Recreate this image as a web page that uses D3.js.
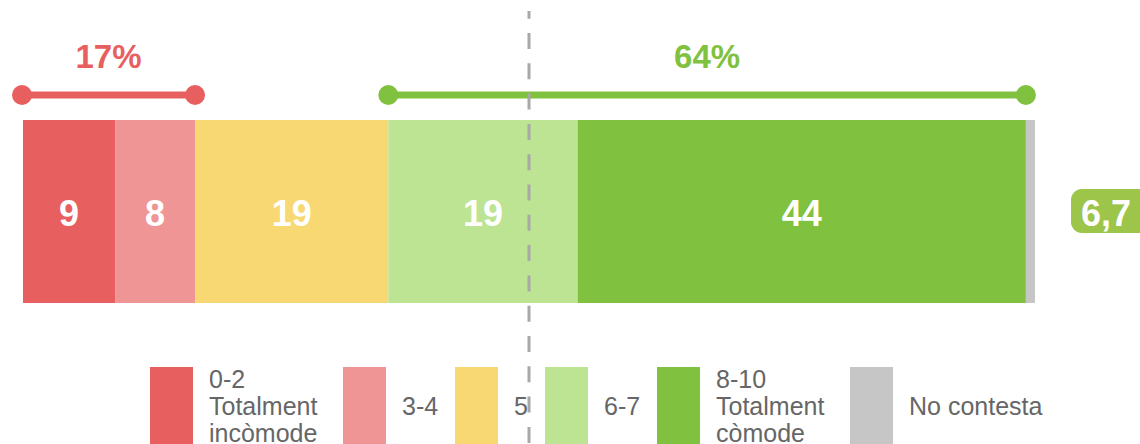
<!DOCTYPE html>
<html>
<head>
<meta charset="utf-8">
<script src="https://cdn.jsdelivr.net/npm/d3@7"></script>
<style>
  html, body { margin: 0; padding: 0; background: #fff; }
  svg { display: block; }
  text { font-family: "Liberation Sans", Arial, sans-serif; }
</style>
</head>
<body>
<div id="chart"></div>
<script>
// ---- data ----
const categories = ["0-2 Totalment incòmode", "3-4", "5", "6-7", "8-10 Totalment còmode", "No contesta"];
const values = [9.1, 7.9, 19.1, 18.7, 44.3, 0.9];
const valueLabels = ["9", "8", "19", "19", "44", ""];
const colors = ["#e85f5f", "#ef9595", "#f8d872", "#bce492", "#80c13f", "#c6c6c6"];
const legendLines = [["0-2", "Totalment", "incòmode"], ["3-4"], ["5"], ["6-7"], ["8-10", "Totalment", "còmode"], ["No contesta"]];
const brackets = [
  { label: "17%", from: 0, to: 17, color: "#e85f5f" },
  { label: "64%", from: 36.1, to: 99.1, color: "#80c13f" }
];
const meanScore = "6,7";
const midline = 50;

// ---- layout ----
const W = 1140, H = 444;
const svg = d3.select("#chart").append("svg").attr("width", W).attr("height", H);

const x = d3.scaleLinear().domain([0, 100]).range([23, 1035]);
const barTop = 120, barBottom = 303;

// stacked segments
let acc = 0;
const segs = values.map((v, i) => { const s = { v, i, x0: acc, x1: acc + v }; acc += v; return s; });

svg.append("g").selectAll("rect").data(segs).enter().append("rect")
  .attr("x", d => x(d.x0))
  .attr("y", barTop)
  .attr("width", d => x(d.x1) - x(d.x0))
  .attr("height", barBottom - barTop)
  .attr("fill", d => colors[d.i]);

svg.append("g").selectAll("text").data(segs.filter(d => valueLabels[d.i] !== "")).enter().append("text")
  .attr("x", d => (x(d.x0) + x(d.x1)) / 2)
  .attr("y", 226)
  .attr("text-anchor", "middle")
  .attr("fill", "#fff")
  .attr("font-weight", "bold")
  .attr("font-size", 36)
  .text(d => valueLabels[d.i]);

// brackets
const bg = svg.append("g");
brackets.forEach(b => {
  const x1 = x(b.from) - (b.from === 0 ? 1 : 0), x2 = x(b.to);
  bg.append("line").attr("x1", x1).attr("x2", x2).attr("y1", 95).attr("y2", 95)
    .attr("stroke", b.color).attr("stroke-width", 7);
  bg.append("circle").attr("cx", x1).attr("cy", 95).attr("r", 10).attr("fill", b.color);
  bg.append("circle").attr("cx", x2).attr("cy", 95).attr("r", 10).attr("fill", b.color);
  bg.append("text").attr("x", (x1 + x2) / 2).attr("y", 68).attr("text-anchor", "middle")
    .attr("fill", b.color).attr("font-weight", "bold").attr("font-size", 33).text(b.label);
});

// mean badge
const badge = svg.append("g");
badge.append("rect").attr("x", 1071).attr("y", 189).attr("width", 80).attr("height", 44)
  .attr("rx", 11).attr("fill", "#9cc54a");
badge.append("text").attr("x", 1106).attr("y", 226).attr("text-anchor", "middle")
  .attr("fill", "#fff").attr("font-weight", "bold").attr("font-size", 36).text(meanScore);

// legend
const legendX = [150, 343, 455, 545, 657, 850];
const lg = svg.append("g");
categories.forEach((c, i) => {
  lg.append("rect").attr("x", legendX[i]).attr("y", 367).attr("width", 43).attr("height", 80)
    .attr("fill", colors[i]);
  const lines = legendLines[i];
  const lh = 27;
  const startY = 415 - (lines.length - 1) * lh / 2;
  const t = lg.append("text").attr("x", legendX[i] + 59).attr("font-size", 25).attr("fill", "#666");
  lines.forEach((l, k) => {
    t.append("tspan").attr("x", legendX[i] + 59).attr("y", startY + k * lh).text(l);
  });
});

// dashed midline
svg.append("line")
  .attr("x1", x(midline)).attr("x2", x(midline))
  .attr("y1", 11).attr("y2", H)
  .attr("stroke", "#a8a8a8").attr("stroke-width", 3)
  .attr("stroke-dasharray", "16,14.3")
  .attr("stroke-dashoffset", 8.3);
</script>
</body>
</html>
